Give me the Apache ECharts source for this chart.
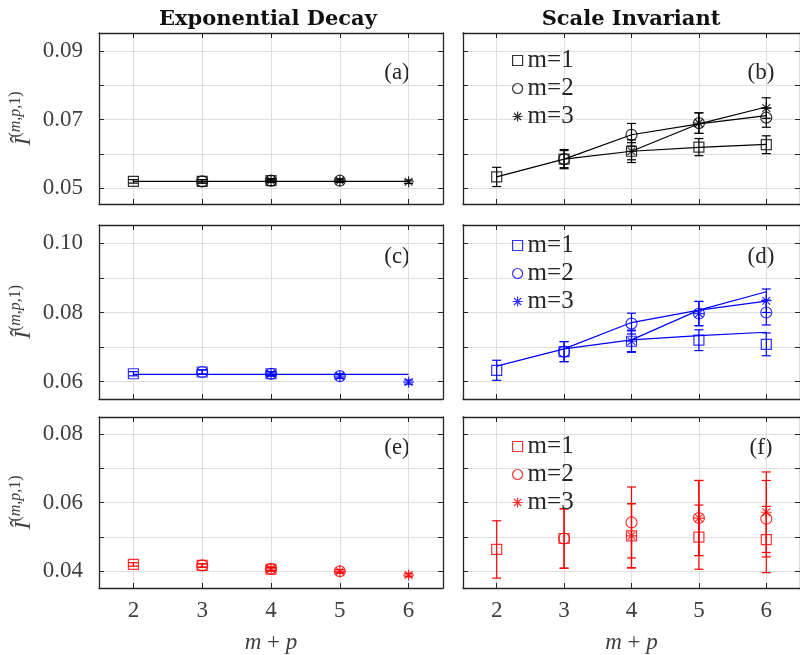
<!DOCTYPE html>
<html><head><meta charset="utf-8">
<script src="https://cdn.jsdelivr.net/npm/echarts@6/dist/echarts.min.js"></script>
<style>html,body{margin:0;padding:0;background:#fff}#c{width:800px;height:655px}</style>
</head><body><div id="c"></div>
<script>
// ---------- data ----------
const xs = [2, 3, 4, 5, 6];
const xTicks = [2, 3, 4, 5, 6];
const yTicksRow = [[0.05, 0.06, 0.07, 0.08, 0.09], [0.06, 0.07, 0.08, 0.09, 0.10], [0.04, 0.05, 0.06, 0.07, 0.08]];
const yLabelsRow = [[0.05, 0.07, 0.09], [0.06, 0.08, 0.10], [0.04, 0.06, 0.08]];
const yRangeRow = [[0.0454, 0.0953], [0.0550, 0.1053], [0.0350, 0.0851]];

// (a) Exponential decay, black
const a_m1 = [0.0520, 0.0520, 0.0522, null, null];
const a_m2 = [null, 0.0520, 0.0522, 0.0522, null];
const a_m3 = [null, null, 0.0522, 0.0522, 0.0519];
const a_e1 = [0.0005, 0.0005, 0.0005, null, null];
const a_e2 = [null, 0.0005, 0.0005, 0.0005, null];
const a_e3 = [null, null, 0.0005, 0.0005, 0.0005];
const a_fit = [0.0520, 0.0520, 0.0520, 0.0520, 0.0520];
// (b) Scale invariant, black
const b_m1 = [0.0533, 0.0585, 0.0608, 0.0620, 0.0627];
const b_m2 = [null, 0.0585, 0.0656, 0.0690, 0.0706];
const b_m3 = [null, null, 0.0608, 0.0690, 0.0734];
const b_e1 = [0.0028, 0.0028, 0.0025, 0.0025, 0.0026];
const b_e2 = [null, 0.0025, 0.0033, 0.0030, 0.0028];
const b_e3 = [null, null, 0.0033, 0.0030, 0.0030];
const b_fit1 = [0.0533, 0.0585, 0.0608, 0.0619, 0.0628];
const b_fit2 = [null, 0.0585, 0.0656, 0.0688, 0.0712];
const b_fit3 = [null, null, 0.0608, 0.0688, 0.0737];
// (c) Exponential decay, blue
const c_m1 = [0.0623, 0.0628, 0.0623, null, null];
const c_m2 = [null, 0.0628, 0.0623, 0.0616, null];
const c_m3 = [null, null, 0.0623, 0.0616, 0.0599];
const c_e1 = [0.0006, 0.0006, 0.0006, null, null];
const c_e2 = [null, 0.0006, 0.0006, 0.0006, null];
const c_e3 = [null, null, 0.0006, 0.0006, 0.0006];
const c_fit = [0.0621, 0.0621, 0.0621, 0.0621, 0.0621];
// (d) Scale invariant, blue
const d_m1 = [0.0633, 0.0687, 0.0717, 0.0720, 0.0708];
const d_m2 = [null, 0.0687, 0.0768, 0.0797, 0.0800];
const d_m3 = [null, null, 0.0717, 0.0797, 0.0834];
const d_e1 = [0.0029, 0.0029, 0.0030, 0.0030, 0.0033];
const d_e2 = [null, 0.0029, 0.0030, 0.0035, 0.0036];
const d_e3 = [null, null, 0.0032, 0.0035, 0.0034];
const d_fit1 = [0.0645, 0.0695, 0.0721, 0.0733, 0.0743];
const d_fit2 = [null, 0.0695, 0.0771, 0.0807, 0.0833];
const d_fit3 = [null, null, 0.0721, 0.0807, 0.0860];
// (e) Exponential decay, red
const e_m1 = [0.0419, 0.0416, 0.0405, null, null];
const e_m2 = [null, 0.0416, 0.0406, 0.0399, null];
const e_m3 = [null, null, 0.0406, 0.0399, 0.0388];
const e_e1 = [0.0005, 0.0005, 0.0005, null, null];
const e_e2 = [null, 0.0005, 0.0005, 0.0005, null];
const e_e3 = [null, null, 0.0005, 0.0005, 0.0005];
// (f) Scale invariant, red
const f_m1 = [0.0463, 0.0495, 0.0503, 0.0499, 0.0492];
const f_m2 = [null, 0.0495, 0.0542, 0.0555, 0.0553];
const f_m3 = [null, null, 0.0503, 0.0555, 0.0572];
const f_e1 = [0.0084, 0.0087, 0.0094, 0.0094, 0.0097];
const f_e2 = [null, 0.0087, 0.0104, 0.0110, 0.0112];
const f_e3 = [null, null, 0.0094, 0.0110, 0.0118];

const columnTitles = ['Exponential Decay', 'Scale Invariant'];
const panelLetters = ['(a)', '(b)', '(c)', '(d)', '(e)', '(f)'];
const legendNames = ['m=1', 'm=2', 'm=3'];

// ---------- styling / layout ----------
const FONT = 'Liberation Serif';
const colors = ['#000000', '#0000ff', '#ff0000'];
const AX = '#262626', LBL = '#404040', GRIDC = '#dedede';
const STAR = 'path://M0,-10L0,10M-10,0L10,0M-7.07,-7.07L7.07,7.07M-7.07,7.07L7.07,-7.07';
const symbols = ['rect', 'circle', STAR];
const colLeft = [99, 463], colWidth = 344;
const rowTop = [33, 225, 417], rowHeight = [171, 174, 174];

const panels = [
  {key: 'a', m: [a_m1, a_m2, a_m3], e: [a_e1, a_e2, a_e3], fit: [a_fit]},
  {key: 'b', m: [b_m1, b_m2, b_m3], e: [b_e1, b_e2, b_e3], fit: [b_fit1, b_fit2, b_fit3]},
  {key: 'c', m: [c_m1, c_m2, c_m3], e: [c_e1, c_e2, c_e3], fit: [c_fit]},
  {key: 'd', m: [d_m1, d_m2, d_m3], e: [d_e1, d_e2, d_e3], fit: [d_fit1, d_fit2, d_fit3]},
  {key: 'e', m: [e_m1, e_m2, e_m3], e: [e_e1, e_e2, e_e3], fit: []},
  {key: 'f', m: [f_m1, f_m2, f_m3], e: [f_e1, f_e2, f_e3], fit: []}
];

function pairs(vals) {
  const out = [];
  xs.forEach((x, i) => { if (vals[i] != null) out.push([x, vals[i]]); });
  return out;
}
function triples(vals, errs) {
  const out = [];
  xs.forEach((x, i) => { if (vals[i] != null) out.push([x, vals[i], errs[i]]); });
  return out;
}
function errRender(color) {
  return function (params, api) {
    const x = api.value(0), y = api.value(1), e = api.value(2);
    const hi = api.coord([x, y + e]), lo = api.coord([x, y - e]);
    const w = 4.5;
    const st = {stroke: color, lineWidth: 1.2, fill: null};
    return {type: 'group', children: [
      {type: 'line', shape: {x1: hi[0], y1: hi[1], x2: lo[0], y2: lo[1]}, style: st},
      {type: 'line', shape: {x1: hi[0] - w, y1: hi[1], x2: hi[0] + w, y2: hi[1]}, style: st},
      {type: 'line', shape: {x1: lo[0] - w, y1: lo[1], x2: lo[0] + w, y2: lo[1]}, style: st}
    ]};
  };
}

const grids = [], xAxes = [], yAxes = [], series = [], legends = [], graphics = [];
panels.forEach((p, i) => {
  const r = Math.floor(i / 2), c = i % 2;
  const color = colors[r];
  grids.push({left: colLeft[c], top: rowTop[r], width: colWidth, height: rowHeight[r], containLabel: false});
  const lineSt = {show: true, lineStyle: {color: AX, width: 1.3}};
  const tickSt = {show: true, inside: true, length: 5, lineStyle: {color: AX, width: 1}};
  xAxes.push({
    type: 'value', gridIndex: i, position: 'bottom', min: 1.5, max: 6.5,
    axisLine: lineSt, axisTick: Object.assign({customValues: xTicks}, tickSt),
    axisLabel: {show: r === 2, customValues: xTicks, fontFamily: FONT, fontSize: 23, color: LBL, margin: 11},
    splitLine: {show: true, lineStyle: {color: GRIDC, width: 1}},
    name: r === 2 ? '{t|m}{s| + }{t|p}' : '', nameLocation: 'middle', nameGap: 43,
    nameTextStyle: {rich: {
      t: {fontFamily: FONT, fontStyle: 'italic', fontSize: 23, color: LBL},
      s: {fontFamily: FONT, fontSize: 23, color: LBL}}}
  });
  xAxes.push({
    type: 'value', gridIndex: i, position: 'top', min: 1.5, max: 6.5,
    axisLine: lineSt, axisTick: Object.assign({customValues: xTicks}, tickSt),
    axisLabel: {show: false}, splitLine: {show: false}
  });
  yAxes.push({
    type: 'value', gridIndex: i, position: 'left', min: yRangeRow[r][0], max: yRangeRow[r][1],
    axisLine: lineSt, axisTick: Object.assign({customValues: yTicksRow[r]}, tickSt),
    axisLabel: {show: c === 0, customValues: yLabelsRow[r], fontFamily: FONT, fontSize: 23, color: LBL, margin: 16,
      formatter: v => Number(v).toFixed(2)},
    splitLine: {show: true, lineStyle: {color: GRIDC, width: 1}},
    name: c === 0 ? '{i|Î}{s|(}{t|m}{s|,}{t|p}{s|,1)}' : '', nameLocation: 'middle', nameGap: 63, nameRotate: 90,
    nameTextStyle: {rich: {
      i: {fontFamily: FONT, fontStyle: 'italic', fontSize: 24, color: LBL, lineHeight: 28, verticalAlign: 'bottom'},
      s: {fontFamily: FONT, fontSize: 16, color: LBL, lineHeight: 16, verticalAlign: 'top'},
      t: {fontFamily: FONT, fontStyle: 'italic', fontSize: 16, color: LBL, lineHeight: 16, verticalAlign: 'top'}}}
  });
  yAxes.push({
    type: 'value', gridIndex: i, position: 'right', min: yRangeRow[r][0], max: yRangeRow[r][1],
    axisLine: lineSt, axisTick: Object.assign({customValues: yTicksRow[r]}, tickSt),
    axisLabel: {show: false}, splitLine: {show: false}
  });
  const xi = 2 * i, yi = 2 * i;
  p.fit.forEach((f, k) => {
    series.push({type: 'line', name: p.key + ':fit' + k, xAxisIndex: xi, yAxisIndex: yi, data: pairs(f),
      showSymbol: false, symbol: 'none', lineStyle: {color: color, width: 1.2}, z: 2, silent: true});
  });
  p.m.forEach((vals, k) => {
    series.push({type: 'custom', name: p.key + ':err' + k, xAxisIndex: xi, yAxisIndex: yi,
      data: triples(vals, p.e[k]), encode: {x: 0, y: 1}, renderItem: errRender(color), z: 3, silent: true});
  });
  p.m.forEach((vals, k) => {
    series.push({type: 'scatter', name: p.key + ':' + legendNames[k], xAxisIndex: xi, yAxisIndex: yi,
      data: pairs(vals), symbol: symbols[k], symbolSize: k === 0 ? 10 : 11,
      itemStyle: {color: 'transparent', borderColor: color, borderWidth: 1.2}, z: 4, silent: true});
  });
  if (c === 1) {
    legends.push({
      orient: 'vertical', left: 512, top: rowTop[r] + [15, 8, 17][r], padding: 0,
      itemWidth: 10, itemHeight: 10, itemGap: 3, selectedMode: false,
      formatter: n => n.split(':')[1],
      textStyle: {fontFamily: FONT, fontSize: 25, color: AX, lineHeight: 23},
      data: legendNames.map((n, k) => ({name: p.key + ':' + n, icon: symbols[k],
        itemStyle: {color: 'transparent', borderColor: color, borderWidth: 1.2}}))
    });
  }
  graphics.push({type: 'text', x: colLeft[c] + 298, y: rowTop[r] + [40, 32, 31][r], silent: true,
    style: {text: panelLetters[i], fontFamily: FONT, fontSize: 23, fill: AX, align: 'center', verticalAlign: 'middle'}});
});
graphics.push({type: 'text', x: 268, y: 20, silent: true,
  style: {text: columnTitles[0], fontFamily: 'DejaVu Serif', fontSize: 21, fontWeight: 'bold', fill: '#111', align: 'center', verticalAlign: 'middle'}});
graphics.push({type: 'text', x: 631, y: 20, silent: true,
  style: {text: columnTitles[1], fontFamily: 'DejaVu Serif', fontSize: 21, fontWeight: 'bold', fill: '#111', align: 'center', verticalAlign: 'middle'}});

const chart = echarts.init(document.getElementById('c'), null, {renderer: 'canvas'});
chart.setOption({
  backgroundColor: '#fff',
  animation: false,
  grid: grids, xAxis: xAxes, yAxis: yAxes, series: series, legend: legends, graphic: graphics
});
</script></body></html>
